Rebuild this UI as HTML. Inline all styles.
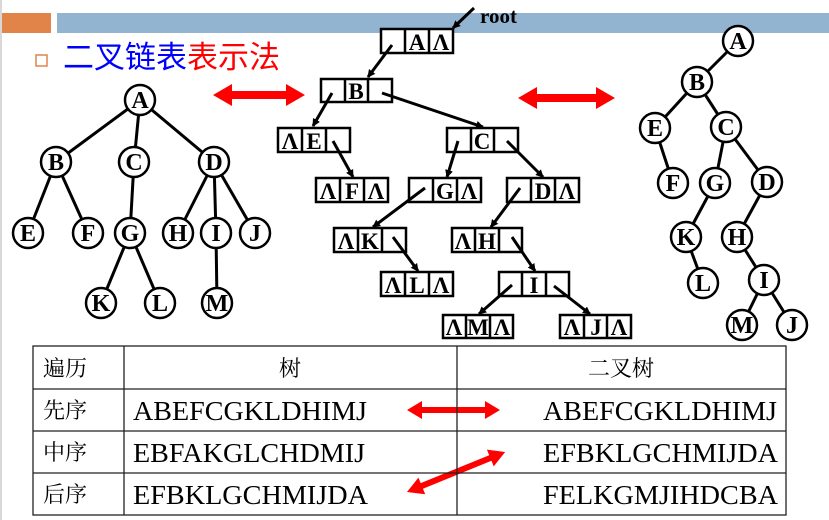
<!DOCTYPE html>
<html><head><meta charset="utf-8"><style>
html,body{margin:0;padding:0;background:#fff;width:829px;height:520px;overflow:hidden}
</style></head><body>
<svg width="829" height="520" viewBox="0 0 829 520" xmlns="http://www.w3.org/2000/svg">
<defs>
<marker id="ah" markerWidth="8" markerHeight="8" refX="7" refY="4" orient="auto" markerUnits="userSpaceOnUse"><path d="M0,0 L8,4 L0,8 z" fill="#000"/></marker>
</defs>
<rect x="0" y="0" width="2" height="520" fill="#d8d8d8"/>
<rect x="2" y="13" width="49" height="20" fill="#e0844a"/>
<rect x="57" y="13" width="772" height="20" fill="#93b4d1"/>
<rect x="36" y="55" width="11" height="11" fill="none" stroke="#e0844a" stroke-width="1.5"/>
<text x="63" y="68" font-family="Liberation Sans, Noto Sans CJK SC, sans-serif" font-size="31"><tspan fill="#0000ff">二叉链表</tspan><tspan fill="#ff0000">表示法</tspan></text>

<g stroke="#000" stroke-width="3" fill="none">
<line x1="140" y1="100" x2="56" y2="162"/><line x1="140" y1="100" x2="134" y2="162"/><line x1="140" y1="100" x2="214" y2="162"/>
<line x1="56" y1="162" x2="28" y2="233"/><line x1="56" y1="162" x2="88" y2="233"/>
<line x1="134" y1="162" x2="130" y2="233"/>
<line x1="214" y1="162" x2="178" y2="233"/><line x1="214" y1="162" x2="216" y2="233"/><line x1="214" y1="162" x2="255" y2="233"/>
<line x1="130" y1="233" x2="101" y2="303"/><line x1="130" y1="233" x2="160" y2="303"/>
<line x1="216" y1="233" x2="217" y2="303"/>
<line x1="738" y1="41" x2="697" y2="82"/><line x1="697" y1="82" x2="655" y2="128"/><line x1="697" y1="82" x2="726" y2="127"/>
<line x1="655" y1="128" x2="673" y2="183"/><line x1="726" y1="127" x2="715" y2="183"/><line x1="726" y1="127" x2="767" y2="182"/>
<line x1="715" y1="183" x2="686" y2="237"/><line x1="767" y1="182" x2="737" y2="237"/>
<line x1="686" y1="237" x2="703" y2="283"/><line x1="737" y1="237" x2="764" y2="280"/>
<line x1="764" y1="280" x2="742" y2="325"/><line x1="764" y1="280" x2="792" y2="325"/>
</g>
<g stroke="#000" stroke-width="2.5" fill="#fff">
<circle cx="140" cy="100" r="15"/><circle cx="56" cy="162" r="15"/><circle cx="134" cy="162" r="15"/><circle cx="214" cy="162" r="15"/>
<circle cx="28" cy="233" r="15"/><circle cx="88" cy="233" r="15"/><circle cx="130" cy="233" r="15"/><circle cx="178" cy="233" r="15"/><circle cx="216" cy="233" r="15"/><circle cx="255" cy="233" r="15"/>
<circle cx="101" cy="303" r="15"/><circle cx="160" cy="303" r="15"/><circle cx="217" cy="303" r="15"/>
<circle cx="738" cy="41" r="15"/><circle cx="697" cy="82" r="15"/><circle cx="655" cy="128" r="15"/><circle cx="726" cy="127" r="15"/>
<circle cx="673" cy="183" r="15"/><circle cx="715" cy="183" r="15"/><circle cx="767" cy="182" r="15"/>
<circle cx="686" cy="237" r="15"/><circle cx="737" cy="237" r="15"/><circle cx="703" cy="283" r="15"/><circle cx="764" cy="280" r="15"/>
<circle cx="742" cy="325" r="15"/><circle cx="792" cy="325" r="15"/>
</g>
<g font-family="Liberation Serif, serif" font-weight="bold" font-size="24" text-anchor="middle" fill="#000">
<text x="140" y="108">A</text><text x="56" y="170">B</text><text x="134" y="170">C</text><text x="214" y="170">D</text>
<text x="28" y="241">E</text><text x="88" y="241">F</text><text x="130" y="241">G</text><text x="178" y="241">H</text><text x="216" y="241">I</text><text x="255" y="241">J</text>
<text x="101" y="311">K</text><text x="160" y="311">L</text><text x="217" y="311">M</text>
<text x="738" y="49">A</text><text x="697" y="90">B</text><text x="655" y="136">E</text><text x="726" y="135">C</text>
<text x="673" y="191">F</text><text x="715" y="191">G</text><text x="767" y="190">D</text>
<text x="686" y="245">K</text><text x="737" y="245">H</text><text x="703" y="291">L</text><text x="764" y="288">I</text>
<text x="742" y="333">M</text><text x="792" y="333">J</text>
</g>

<g stroke="#000" stroke-width="2.5" fill="#fff">
<rect x="381" y="29" width="72" height="24"/><line x1="405" y1="29" x2="405" y2="53"/><line x1="429" y1="29" x2="429" y2="53"/>
<rect x="321" y="79" width="71" height="23"/><line x1="345" y1="79" x2="345" y2="102"/><line x1="368" y1="79" x2="368" y2="102"/>
<rect x="278" y="128" width="72" height="24"/><line x1="302" y1="128" x2="302" y2="152"/><line x1="326" y1="128" x2="326" y2="152"/>
<rect x="447" y="128" width="71" height="24"/><line x1="471" y1="128" x2="471" y2="152"/><line x1="494" y1="128" x2="494" y2="152"/>
<rect x="316" y="178" width="72" height="24"/><line x1="340" y1="178" x2="340" y2="202"/><line x1="364" y1="178" x2="364" y2="202"/>
<rect x="409" y="178" width="72" height="24"/><line x1="433" y1="178" x2="433" y2="202"/><line x1="457" y1="178" x2="457" y2="202"/>
<rect x="507" y="178" width="72" height="24"/><line x1="531" y1="178" x2="531" y2="202"/><line x1="555" y1="178" x2="555" y2="202"/>
<rect x="334" y="228" width="72" height="24"/><line x1="358" y1="228" x2="358" y2="252"/><line x1="382" y1="228" x2="382" y2="252"/>
<rect x="452" y="228" width="70" height="24"/><line x1="475" y1="228" x2="475" y2="252"/><line x1="499" y1="228" x2="499" y2="252"/>
<rect x="381" y="272" width="72" height="24"/><line x1="405" y1="272" x2="405" y2="296"/><line x1="429" y1="272" x2="429" y2="296"/>
<rect x="499" y="272" width="70" height="24"/><line x1="522" y1="272" x2="522" y2="296"/><line x1="546" y1="272" x2="546" y2="296"/>
<rect x="443" y="315" width="70" height="23"/><line x1="466" y1="315" x2="466" y2="338"/><line x1="490" y1="315" x2="490" y2="338"/>
<rect x="560" y="315" width="71" height="23"/><line x1="584" y1="315" x2="584" y2="338"/><line x1="607" y1="315" x2="607" y2="338"/>
</g>
<g font-family="Liberation Serif, serif" font-weight="bold" font-size="23" text-anchor="middle" fill="#000">
<text x="417" y="50">A</text><text x="441" y="50">Λ</text>
<text x="356" y="99">B</text>
<text x="290" y="149">Λ</text><text x="314" y="149">E</text>
<text x="482" y="149">C</text>
<text x="328" y="199">Λ</text><text x="352" y="199">F</text><text x="376" y="199">Λ</text>
<text x="445" y="199">G</text><text x="469" y="199">Λ</text>
<text x="543" y="199">D</text><text x="567" y="199">Λ</text>
<text x="346" y="249">Λ</text><text x="370" y="249">K</text>
<text x="463" y="249">Λ</text><text x="487" y="249">H</text>
<text x="393" y="293">Λ</text><text x="417" y="293">L</text><text x="441" y="293">Λ</text>
<text x="534" y="293">I</text>
<text x="454" y="335">Λ</text><text x="478" y="335">M</text><text x="502" y="335">Λ</text>
<text x="572" y="335">Λ</text><text x="596" y="335">J</text><text x="619" y="335">Λ</text>
<text x="480" y="23" font-size="21" text-anchor="start">root</text>
</g>
<g stroke="#000" stroke-width="3" marker-end="url(#ah)">
<line x1="474" y1="8" x2="453" y2="28"/>
<line x1="392" y1="45" x2="368" y2="77"/>
<line x1="332" y1="93" x2="313" y2="126"/>
<line x1="382" y1="93" x2="483" y2="127"/>
<line x1="333" y1="141" x2="353" y2="177"/>
<line x1="458" y1="141" x2="447" y2="177"/>
<line x1="507" y1="141" x2="543" y2="177"/>
<line x1="425" y1="188" x2="373" y2="227"/>
<line x1="520" y1="188" x2="491" y2="227"/>
<line x1="393" y1="237" x2="418" y2="271"/>
<line x1="512" y1="237" x2="535" y2="271"/>
<line x1="512" y1="285" x2="479" y2="314"/>
<line x1="554" y1="286" x2="590" y2="314"/>
</g>

<g fill="#ff0000">
<path d="M213,95 L232,84 L232,91 L286,91 L286,84 L305,95 L286,106 L286,99 L232,99 L232,106 z"/>
<path d="M518,98 L537,87 L537,94 L596,94 L596,87 L615,98 L596,109 L596,102 L537,102 L537,109 z"/>
<path d="M407,410 L422,401 L422,407 L485,407 L485,401 L500,410 L485,419 L485,413 L422,413 L422,419 z"/>
<g transform="translate(407,492) rotate(-22.2)"><path d="M0,0 L16,-9 L16,-3 L90,-3 L90,-9 L106,0 L90,9 L90,3 L16,3 L16,9 z"/></g>
</g>

<g stroke="#222" stroke-width="1.3" fill="none">
<rect x="33" y="346" width="753" height="169"/>
<line x1="33" y1="389" x2="786" y2="389"/><line x1="33" y1="431" x2="786" y2="431"/><line x1="33" y1="473" x2="786" y2="473"/>
<line x1="124" y1="346" x2="124" y2="515"/><line x1="457" y1="346" x2="457" y2="515"/>
</g>
<g font-family="Noto Serif CJK SC, serif" font-size="22" fill="#000">
<text x="43" y="376">遍历</text><text x="43" y="418">先序</text><text x="43" y="460">中序</text><text x="43" y="502">后序</text>
<text x="290" y="376" text-anchor="middle">树</text>
<text x="621" y="376" text-anchor="middle">二叉树</text>
</g>
<g font-family="Liberation Serif, serif" font-size="27" fill="#000">
<text x="133" y="420" textLength="234" lengthAdjust="spacingAndGlyphs">ABEFCGKLDHIMJ</text>
<text x="133" y="462" textLength="232" lengthAdjust="spacingAndGlyphs">EBFAKGLCHDMIJ</text>
<text x="133" y="504" textLength="235" lengthAdjust="spacingAndGlyphs">EFBKLGCHMIJDA</text>
<text x="543" y="420" textLength="234" lengthAdjust="spacingAndGlyphs">ABEFCGKLDHIMJ</text>
<text x="543" y="462" textLength="235" lengthAdjust="spacingAndGlyphs">EFBKLGCHMIJDA</text>
<text x="543" y="504" textLength="235" lengthAdjust="spacingAndGlyphs">FELKGMJIHDCBA</text>
</g>
</svg>
</body></html>
